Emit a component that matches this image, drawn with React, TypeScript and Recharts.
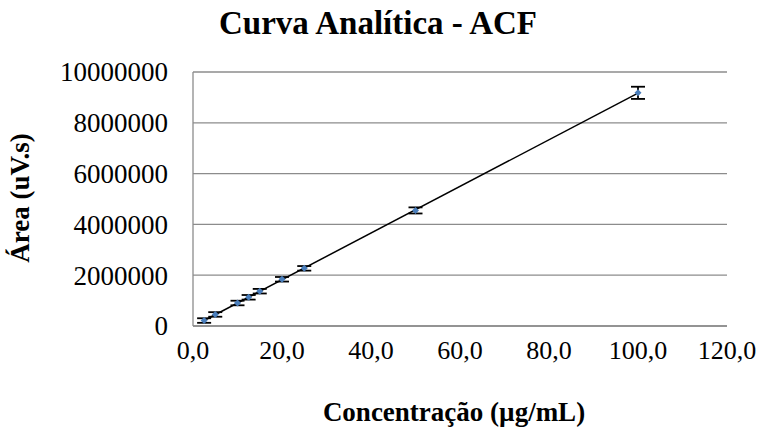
import { ComposedChart, Scatter, ErrorBar, XAxis, YAxis, CartesianGrid, ReferenceLine } from "recharts";

// calibration points
const conc = [2.5, 5, 10, 12.5, 15, 20, 25, 50, 100];
const area = [215000, 455000, 905000, 1130000, 1370000, 1840000, 2270000, 4550000, 9180000];
const desvio = [90000, 90000, 90000, 90000, 90000, 90000, 90000, 120000, 240000];

const xTicks = [0, 20, 40, 60, 80, 100, 120];
const yTicks = [0, 2000000, 4000000, 6000000, 8000000, 10000000];

const pontos = conc.map((c, i) => ({ x: c, y: area[i], err: desvio[i] }));

// linear trendline (least squares)
const n = conc.length;
const mx = conc.reduce((a, b) => a + b, 0) / n;
const my = area.reduce((a, b) => a + b, 0) / n;
let sxy = 0, sxx = 0;
conc.forEach((c, i) => { sxy += (c - mx) * (area[i] - my); sxx += (c - mx) * (c - mx); });
const b = sxy / sxx;
const a0 = my - b * mx;
const x0 = Math.min(...conc), x1 = Math.max(...conc);

const SERIF = '"Liberation Serif"';

const Diamond = (p: any) => {
  const { cx, cy } = p;
  if (cx == null || cy == null) return null;
  const r = 3.5;
  return <polygon points={`${cx},${cy - r} ${cx + r},${cy} ${cx},${cy + r} ${cx - r},${cy}`} fill="#4a7ebb" />;
};

const XTick = (p: any) => (
  <text x={p.x} y={p.y} dy="0.71em" textAnchor="middle" fontSize={26} fill="#000" style={{ fontFamily: SERIF }}>
    {Number(p.payload.value).toFixed(1).replace(".", ",")}
  </text>
);

const YTick = (p: any) => (
  <text x={p.x} y={p.y} dy="0.35em" textAnchor="end" fontSize={27} fill="#000" style={{ fontFamily: SERIF }}>
    {p.payload.value}
  </text>
);

const titulo: any = { position: "absolute", fontFamily: SERIF, fontWeight: "bold", color: "#000", whiteSpace: "nowrap", lineHeight: 1 };

export default function App() {
  return (
    <div style={{ position: "relative", width: 762, height: 438, background: "#fff" }}>
      <style>{"body{margin:0}"}</style>
      <ComposedChart width={762} height={438} margin={{ top: 72, right: 35, bottom: 0, left: 0 }}>
        <CartesianGrid vertical={false} stroke="#8c8c8c" strokeWidth={1.3} />
        <XAxis
          type="number"
          dataKey="x"
          domain={[0, 120]}
          ticks={xTicks}
          height={112}
          tickLine={false}
          tickSize={0}
          tickMargin={15}
          axisLine={{ stroke: "#8c8c8c", strokeWidth: 1.3 }}
          tick={XTick}
        />
        <YAxis
          type="number"
          dataKey="y"
          domain={[0, 10000000]}
          ticks={yTicks}
          width={193}
          tickLine={false}
          tickSize={0}
          tickMargin={25}
          axisLine={{ stroke: "#8c8c8c", strokeWidth: 1.3 }}
          tick={YTick}
        />
        <Scatter data={pontos} dataKey="y" shape={Diamond} isAnimationActive={false}>
          <ErrorBar dataKey="err" direction="y" width={7} stroke="#000" strokeWidth={1.8} />
        </Scatter>
        <ReferenceLine
          segment={[{ x: x0, y: a0 + b * x0 }, { x: x1, y: a0 + b * x1 }]}
          stroke="#000"
          strokeWidth={1.5}
          ifOverflow="visible"
        />
      </ComposedChart>
      <div style={{ ...titulo, left: 0, width: 756, top: 7, textAlign: "center", fontSize: 33 }}>Curva Analítica - ACF</div>
      <div style={{ ...titulo, left: 0, width: 908, top: 399, textAlign: "center", fontSize: 27 }}>Concentração (µg/mL)</div>
      <div
        style={{
          ...titulo,
          left: 20,
          top: 198,
          fontSize: 27,
          transform: "translate(-50%, -50%) rotate(-90deg)",
        }}
      >
        Área (uV.s)
      </div>
    </div>
  );
}
